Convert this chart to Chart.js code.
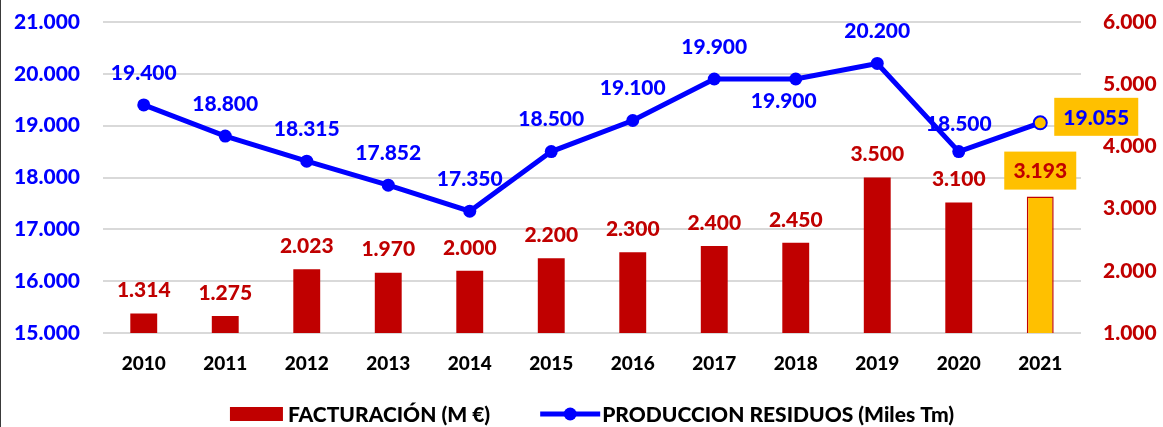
<!DOCTYPE html>
<html>
<head>
<meta charset="utf-8">
<script src="https://cdn.jsdelivr.net/npm/chart.js@4.4.0/dist/chart.umd.min.js"></script>
<style>
html,body{margin:0;padding:0;background:#ffffff;}
#wrap{position:relative;width:1163px;height:427px;}
</style>
</head>
<body>
<div id="wrap"><canvas id="c" width="1163" height="427"></canvas></div>
<script>
// ---- data ----
const years = ['2010','2011','2012','2013','2014','2015','2016','2017','2018','2019','2020','2021'];
const facturacion = [1314, 1275, 2023, 1970, 2000, 2200, 2300, 2400, 2450, 3500, 3100, 3193];
const residuos = [19400, 18800, 18315, 17852, 17350, 18500, 19100, 19900, 19900, 20200, 18500, 19055];
const leftTicks = [15000, 16000, 17000, 18000, 19000, 20000, 21000];
const rightTicks = [1000, 2000, 3000, 4000, 5000, 6000];
const seriesNames = ['FACTURACIÓN (M €)', 'PRODUCCION RESIDUOS (Miles Tm)'];

// ---- styles ----
const RED = '#C00000';
const BLUE = '#0000FF';
const GOLD = '#FFC000';
const FONT = 'Lato';
const W = '900';
const last = years.length - 1;

function fmt(v){ return String(Math.round(v)).replace(/\B(?=(\d{3})+(?!\d))/g, '.'); }

// label placement (style, not data)
const lineLabelOffsets = years.map((y,i)=> i===8 ? [-12, 21] : (i===10 ? [0,-28] : [0,-33]));
const barLabelOffset = -24;

const labelPlugin = {
  id: 'valueLabels',
  afterDatasetsDraw(chart){
    const ctx = chart.ctx;
    const lineMeta = chart.getDatasetMeta(0);
    const barMeta = chart.getDatasetMeta(1);
    ctx.save();
    ctx.font = W + ' 21px ' + FONT;
    ctx.textAlign = 'center';
    ctx.textBaseline = 'middle';
    // bar labels
    barMeta.data.forEach((el, i) => {
      const txt = fmt(chart.data.datasets[1].data[i]);
      let x = el.x, y = el.y + barLabelOffset;
      if (i === last) {
        y = el.y - 26;
        ctx.fillStyle = GOLD;
        ctx.fillRect(x - 36, y - 19, 72, 38);
      }
      ctx.fillStyle = RED;
      ctx.fillText(txt, x, y + 1);
    });
    // line labels
    lineMeta.data.forEach((el, i) => {
      const txt = fmt(chart.data.datasets[0].data[i]);
      let x = el.x, y = el.y;
      if (i === last) {
        x += 56; y -= 6;
        ctx.fillStyle = GOLD;
        ctx.fillRect(x - 42, y - 19, 84, 38);
      } else {
        x += lineLabelOffsets[i][0]; y += lineLabelOffsets[i][1];
      }
      ctx.fillStyle = BLUE;
      ctx.fillText(txt, x, y + 1);
    });
    ctx.restore();
  },
  afterDraw(chart){
    const ctx = chart.ctx;
    ctx.save();
    // left frame line
    ctx.fillStyle = '#3a3a3a';
    ctx.fillRect(0, 0, 1, chart.height);
    // legend
    ctx.font = W + ' 21px ' + FONT;
    ctx.textBaseline = 'middle';
    ctx.textAlign = 'left';
    const w1 = ctx.measureText(seriesNames[0]).width;
    const w2 = ctx.measureText(seriesNames[1]).width;
    const total = 53 + 5 + w1 + 50 + 60 + 2 + w2;
    const cx = (chart.chartArea.left + chart.chartArea.right) / 2;
    let x = cx - total / 2;
    const y = 414;
    ctx.fillStyle = RED;
    ctx.fillRect(x, y - 7, 53, 14);
    x += 58;
    ctx.fillStyle = '#000';
    ctx.fillText(seriesNames[0], x, y + 1);
    x += w1 + 50;
    ctx.strokeStyle = BLUE; ctx.lineWidth = 5;
    ctx.beginPath(); ctx.moveTo(x, y); ctx.lineTo(x + 60, y); ctx.stroke();
    ctx.fillStyle = BLUE;
    ctx.beginPath(); ctx.arc(x + 30, y, 6.5, 0, Math.PI*2); ctx.fill();
    x += 62;
    ctx.fillStyle = '#000';
    ctx.fillText(seriesNames[1], x, y + 1);
    ctx.restore();
  }
};

function fixVertical(width){
  return function(s){ s.width = width; s.paddingTop = 0; s.paddingBottom = 0; };
}

new Chart(document.getElementById('c'), {
  data: {
    labels: years,
    datasets: [
      {
        type: 'line',
        label: seriesNames[1],
        data: residuos,
        yAxisID: 'y',
        order: 0,
        borderColor: BLUE,
        borderWidth: 5,
        tension: 0,
        pointRadius: 6.5,
        pointBackgroundColor: years.map((y,i)=> i===last ? GOLD : BLUE),
        pointBorderColor: BLUE,
        pointBorderWidth: years.map((y,i)=> i===last ? 2 : 0),
        pointHoverRadius: 6.5
      },
      {
        type: 'bar',
        label: seriesNames[0],
        data: facturacion,
        yAxisID: 'y1',
        order: 1,
        backgroundColor: years.map((y,i)=> i===last ? GOLD : RED),
        borderColor: RED,
        borderWidth: years.map((y,i)=> i===last ? 1.5 : 0),
        barPercentage: 0.33,
        categoryPercentage: 1.0
      }
    ]
  },
  options: {
    responsive: false,
    animation: false,
    events: [],
    layout: { padding: { top: 22, bottom: 34, left: 0, right: 0 } },
    plugins: { legend: { display: false }, tooltip: { enabled: false } },
    scales: {
      x: {
        grid: { display: false },
        border: { display: false },
        ticks: { color: '#000', font: { family: FONT, size: 19, weight: W }, padding: 11 },
        afterFit(s){ s.height = 60; }
      },
      y: {
        position: 'left',
        min: leftTicks[0], max: leftTicks[leftTicks.length-1],
        afterBuildTicks(s){ s.ticks = leftTicks.map(v=>({value:v})); },
        ticks: { color: BLUE, font: { family: FONT, size: 21, weight: W }, padding: 23, callback: v => fmt(v) },
        grid: { color: '#D9D9D9', lineWidth: 2, drawTicks: false },
        border: { display: false },
        afterFit: fixVertical(103)
      },
      y1: {
        position: 'right',
        min: rightTicks[0], max: rightTicks[rightTicks.length-1],
        afterBuildTicks(s){ s.ticks = rightTicks.map(v=>({value:v})); },
        ticks: { color: RED, font: { family: FONT, size: 21, weight: W }, padding: 22, callback: v => fmt(v) },
        grid: { display: false, drawTicks: false },
        border: { display: false },
        afterFit: fixVertical(82)
      }
    }
  },
  plugins: [labelPlugin]
});
</script>
</body>
</html>
